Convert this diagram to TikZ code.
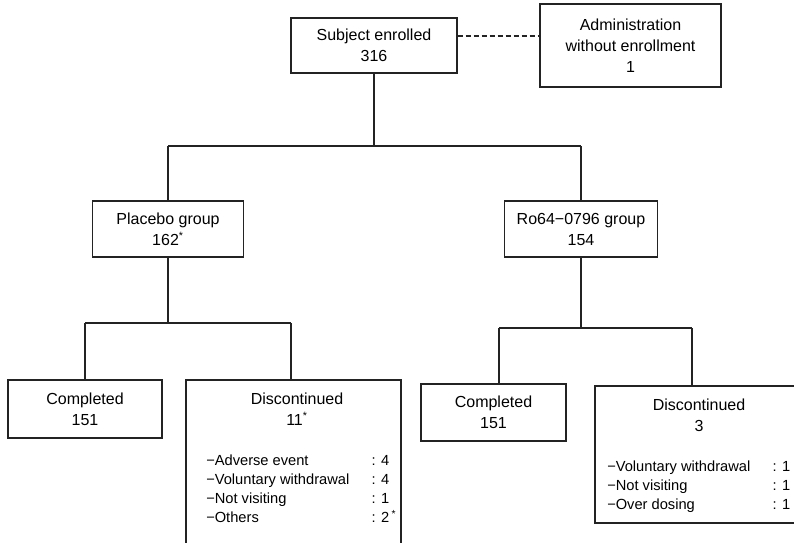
\documentclass[tikz,border=0pt]{standalone}
\usepackage{fontspec}
\setmainfont{Liberation Sans}
\usepackage{xcolor}
\definecolor{Ink}{RGB}{35,35,35}
\usepackage{tikz}
\tikzstyle{Box}=[draw=Ink,line width=.8pt,inner sep=0pt,align=center,
font=\fontsize{12}{15.75}\selectfont]
\tikzstyle{Link}=[draw=Ink,line width=.8pt]
\tikzstyle{LinkDash}=[Link,dash pattern=on 3.75pt off 2.25pt]
\tikzstyle{Title}=[inner sep=0pt,align=center,font=\fontsize{12}{15.75}\selectfont]
\tikzstyle{Reasons}=[inner sep=0pt,anchor=west,font=\fontsize{11}{14.25}\selectfont]
\newcommand{\ReasonTab}[1]{\begin{tabular}{@{}p{124pt}@{}l@{}}#1\end{tabular}}

\begin{document}
\begin{tikzpicture}[x=0.75pt,y=-0.75pt]
        \useasboundingbox (0,0) rectangle (794,543);
        \clip (0,0) rectangle (794,543);
        \node[Box,minimum width=124.5pt,minimum height=41.25pt](sub)at(374,45.5){Subject enrolled\\316};
        \node[Box,minimum width=135.75pt,minimum height=62.25pt](adm)at(630.5,45.5){Administration\\without enrollment\\1};
        \node[Box,minimum width=113.25pt,minimum height=42pt](pla)at(168,229){Placebo group\\162\textsuperscript{*}};
        \node[Box,minimum width=114.75pt,minimum height=42pt](ro)at(581,229){Ro64−0796 group\\154};
        \node[Box,minimum width=115.5pt,minimum height=43.5pt](pcomp)at(85,409){Completed\\151};
        \node[Box,minimum width=161.25pt,minimum height=135pt](pdisc)at(293.5,470){};
        \node[Box,minimum width=108.75pt,minimum height=42.75pt](rcomp)at(493.5,412.5){Completed\\151};
        \node[Box,minimum width=153.75pt,minimum height=102.75pt](rdisc)at(697.5,454.5){};
        % text inside the discontinued boxes
        \node[Title](pdisct)at(297,409.5){Discontinued\\11\textsuperscript{*}};
        \node[Reasons](pdiscr)at(206,490.5){\ReasonTab{−Adverse event & : 4\\
            −Voluntary withdrawal & : 4\\ −Not visiting & : 1\\ −Others & : 2\,\textsuperscript{*}}};
        \node[Title](rdisct)at(699,415){Discontinued\\3};
        \node[Reasons](rdiscr)at(607,487){\ReasonTab{−Voluntary withdrawal & : 1\\
            −Not visiting & : 1\\ −Over dosing & : 1}};
        % branch points
        \coordinate(top)at(374,146);
        \coordinate(topl)at(168,146);
        \coordinate(topr)at(581,146);
        \coordinate(pj)at(168,323);
        \coordinate(pjl)at(85,323);
        \coordinate(pjr)at(291,323);
        \coordinate(rj)at(581,328);
        \coordinate(rjl)at(499,328);
        \coordinate(rjr)at(692,328);
        \coordinate(dsh)at(500,36);
        \draw[LinkDash](sub.east |- dsh)--(adm.west |- dsh);
        \draw[Link](sub)--(top);
        \draw[Link](topl)--(topr);
        \draw[Link](topl)--(pla);
        \draw[Link](topr)--(ro);
        \draw[Link](pla)--(pj);
        \draw[Link](pjl)--(pjr);
        \draw[Link](pjl)--(pcomp);
        \draw[Link](pjr)--(pjr |- pdisc.north);
        \draw[Link](ro)--(rj);
        \draw[Link](rjl)--(rjr);
        \draw[Link](rjl)--(rjl |- rcomp.north);
        \draw[Link](rjr)--(rjr |- rdisc.north);
    \end{tikzpicture}
\end{document}
